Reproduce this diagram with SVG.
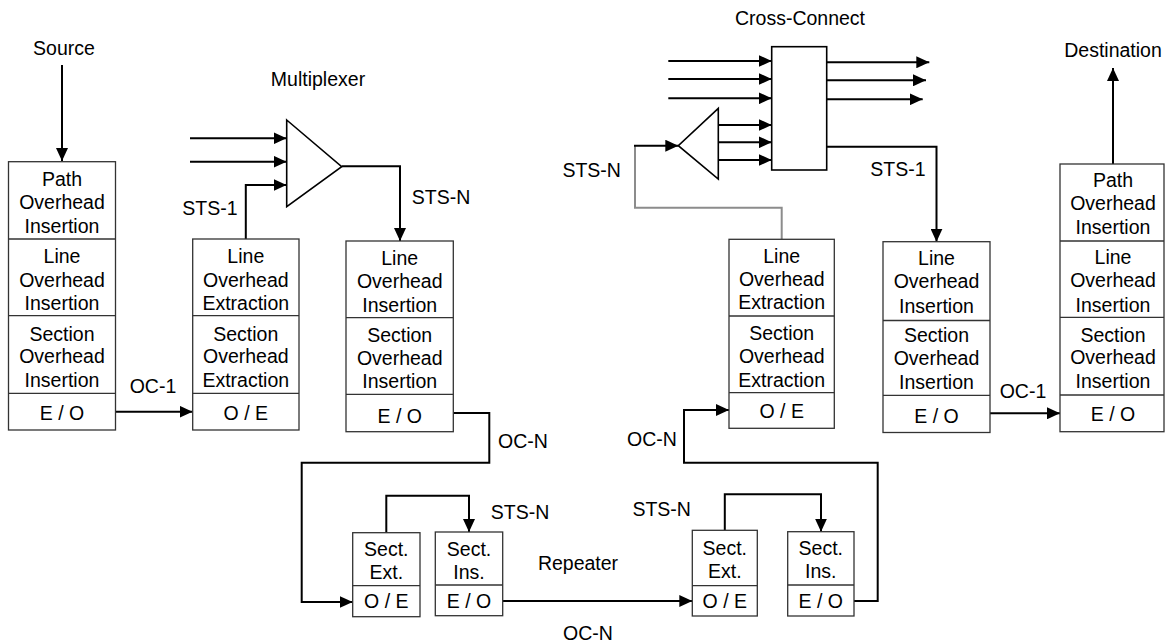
<svg xmlns="http://www.w3.org/2000/svg" width="1165" height="643" viewBox="0 0 1165 643">
<style>
text{font-family:"Liberation Sans",Arial,sans-serif;font-size:19.5px;fill:#000;text-anchor:middle}
.box{fill:#fff;stroke:#333;stroke-width:1.3}
.div{stroke:#333;stroke-width:1.3}
.w{fill:none;stroke:#000;stroke-width:2}
.a{marker-end:url(#ah)}
.g{fill:none;stroke:#8c8c8c;stroke-width:2}
.tri{fill:#fff;stroke:#000;stroke-width:1.6}
</style>
<defs>
<marker id="ah" markerUnits="userSpaceOnUse" markerWidth="14" markerHeight="12" refX="13" refY="6" orient="auto">
<path d="M0,0 L13,6 L0,12 z" fill="#000"/>
</marker>
</defs>
<rect width="1165" height="643" fill="#fff"/>
<g id="connectors">
<path class="w a" d="M62,65 V161"/>
<path class="w a" d="M115.5,411.7 H192.5"/>
<path class="w a" d="M245.8,239 V185 H286.5"/>
<path class="w a" d="M190,138.3 H286.5"/>
<path class="w a" d="M190,161.7 H286.5"/>
<path class="w a" d="M341.7,166.2 H400 V241"/>
<path class="w a" d="M453.3,413 H489.3 V462.7 H301.7 V602 H352.7"/>
<path class="w a" d="M386.3,532.7 V495.7 H469 V532"/>
<path class="w a" d="M502.7,601 H692.3"/>
<path class="w a" d="M724.8,530.3 V494.3 H821 V531.7"/>
<path class="w a" d="M854,601 H877.7 V462.7 H684 V410 H729"/>
<path class="g" d="M635,146 V207.7 H781.7 V239.3"/>
<path class="w a" d="M634,145.7 H678.3"/>
<path class="w a" d="M668.3,61 H771.7"/>
<path class="w a" d="M668.3,79 H771.7"/>
<path class="w a" d="M668.3,98.3 H771.7"/>
<path class="w a" d="M718.3,125 H771.7"/>
<path class="w a" d="M718.3,142.3 H771.7"/>
<path class="w a" d="M718.3,160 H771.7"/>
<path class="w a" d="M826.7,62.3 H929.3"/>
<path class="w a" d="M826.7,80.3 H926"/>
<path class="w a" d="M826.7,99.3 H922.7"/>
<path class="w a" d="M824,146.7 H936.5 V241.7"/>
<path class="w a" d="M990,413.3 H1060"/>
<path class="w a" d="M1113,164 V68"/>
</g>
<g id="mux">
<polygon class="tri" points="286.7,120 341.7,166.7 286.7,206.7"/>
<text x="318" y="86">Multiplexer</text>
</g>
<g id="crossconnect">
<rect x="771.7" y="46.7" width="55" height="123.3" fill="#fff" stroke="#000" stroke-width="1.6"/>
<text x="800" y="25">Cross-Connect</text>
</g>
<g id="demux">
<polygon class="tri" points="718.3,108.3 678.3,145.7 718.3,179"/>
</g>
<g id="box1">
<rect class="box" x="8.5" y="161.7" width="107" height="268.3"/>
<path class="div" d="M8.5,239 H115.5 M8.5,315.7 H115.5 M8.5,393.3 H115.5"/>
<text x="62" y="186">Path</text><text x="62" y="209.3">Overhead</text><text x="62" y="232.7">Insertion</text>
<text x="62" y="263.3">Line</text><text x="62" y="286.7">Overhead</text><text x="62" y="310">Insertion</text>
<text x="62" y="341">Section</text><text x="62" y="363.3">Overhead</text><text x="62" y="386.7">Insertion</text>
<text x="62" y="420">E / O</text>
</g>
<g id="box2">
<rect class="box" x="192.7" y="239" width="106.3" height="191"/>
<path class="div" d="M192.7,315.7 H299 M192.7,393.3 H299"/>
<text x="245.8" y="263.3">Line</text><text x="245.8" y="286.7">Overhead</text><text x="245.8" y="310">Extraction</text>
<text x="245.8" y="341">Section</text><text x="245.8" y="363.3">Overhead</text><text x="245.8" y="386.7">Extraction</text>
<text x="245.8" y="420">O / E</text>
</g>
<g id="box3">
<rect class="box" x="346" y="241" width="107.3" height="190.7"/>
<path class="div" d="M346,317.7 H453.3 M346,394.3 H453.3"/>
<text x="399.7" y="265">Line</text><text x="399.7" y="287.7">Overhead</text><text x="399.7" y="311.7">Insertion</text>
<text x="399.7" y="341.7">Section</text><text x="399.7" y="365">Overhead</text><text x="399.7" y="388.3">Insertion</text>
<text x="399.7" y="422.7">E / O</text>
</g>
<g id="boxE">
<rect class="box" x="729" y="239.3" width="105.3" height="189"/>
<path class="div" d="M729,316 H834.3 M729,392.7 H834.3"/>
<text x="781.7" y="262.7">Line</text><text x="781.7" y="286">Overhead</text><text x="781.7" y="309.3">Extraction</text>
<text x="781.7" y="340">Section</text><text x="781.7" y="363.3">Overhead</text><text x="781.7" y="386.7">Extraction</text>
<text x="781.7" y="418.3">O / E</text>
</g>
<g id="boxF">
<rect class="box" x="883" y="241.7" width="107" height="190.8"/>
<path class="div" d="M883,320.5 H990 M883,395.3 H990"/>
<text x="936.5" y="265">Line</text><text x="936.5" y="288.3">Overhead</text><text x="936.5" y="312.7">Insertion</text>
<text x="936.5" y="341.7">Section</text><text x="936.5" y="365">Overhead</text><text x="936.5" y="389.3">Insertion</text>
<text x="936.5" y="423.3">E / O</text>
</g>
<g id="boxG">
<rect class="box" x="1060" y="164" width="104" height="267.7"/>
<path class="div" d="M1060,241 H1164 M1060,317.3 H1164 M1060,395 H1164"/>
<text x="1113" y="186.7">Path</text><text x="1113" y="210">Overhead</text><text x="1113" y="234.3">Insertion</text>
<text x="1113" y="264">Line</text><text x="1113" y="287.3">Overhead</text><text x="1113" y="311.7">Insertion</text>
<text x="1113" y="341.7">Section</text><text x="1113" y="364.3">Overhead</text><text x="1113" y="388.3">Insertion</text>
<text x="1113" y="421">E / O</text>
</g>
<g id="repA">
<rect class="box" x="352.7" y="532.7" width="67.3" height="84"/>
<path class="div" d="M352.7,585.7 H420"/>
<text x="386.3" y="556">Sect.</text><text x="386.3" y="579.3">Ext.</text><text x="386.3" y="607.7">O / E</text>
</g>
<g id="repB">
<rect class="box" x="435.3" y="532" width="67.4" height="83.7"/>
<path class="div" d="M435.3,585 H502.7"/>
<text x="469" y="556">Sect.</text><text x="469" y="579.3">Ins.</text><text x="469" y="607.7">E / O</text>
</g>
<g id="repC">
<rect class="box" x="692.3" y="530.3" width="65" height="85.7"/>
<path class="div" d="M692.3,585.7 H757.3"/>
<text x="724.8" y="555">Sect.</text><text x="724.8" y="577.7">Ext.</text><text x="724.8" y="607.7">O / E</text>
</g>
<g id="repD">
<rect class="box" x="787.7" y="531.7" width="66.3" height="84.3"/>
<path class="div" d="M787.7,585 H854"/>
<text x="820.8" y="555">Sect.</text><text x="820.8" y="577.7">Ins.</text><text x="820.8" y="607.7">E / O</text>
</g>
<g id="labels">
<text x="64" y="55">Source</text>
<text x="210" y="215">STS-1</text>
<text x="153" y="392.7">OC-1</text>
<text x="441" y="204">STS-N</text>
<text x="523" y="448.3">OC-N</text>
<text x="520" y="519.3">STS-N</text>
<text x="578" y="570">Repeater</text>
<text x="588" y="640">OC-N</text>
<text x="661.7" y="515.7">STS-N</text>
<text x="652" y="445.7">OC-N</text>
<text x="591.7" y="177.3">STS-N</text>
<text x="898" y="175.7">STS-1</text>
<text x="1113" y="56.7">Destination</text>
<text x="1023" y="398">OC-1</text>
</g>
</svg>
